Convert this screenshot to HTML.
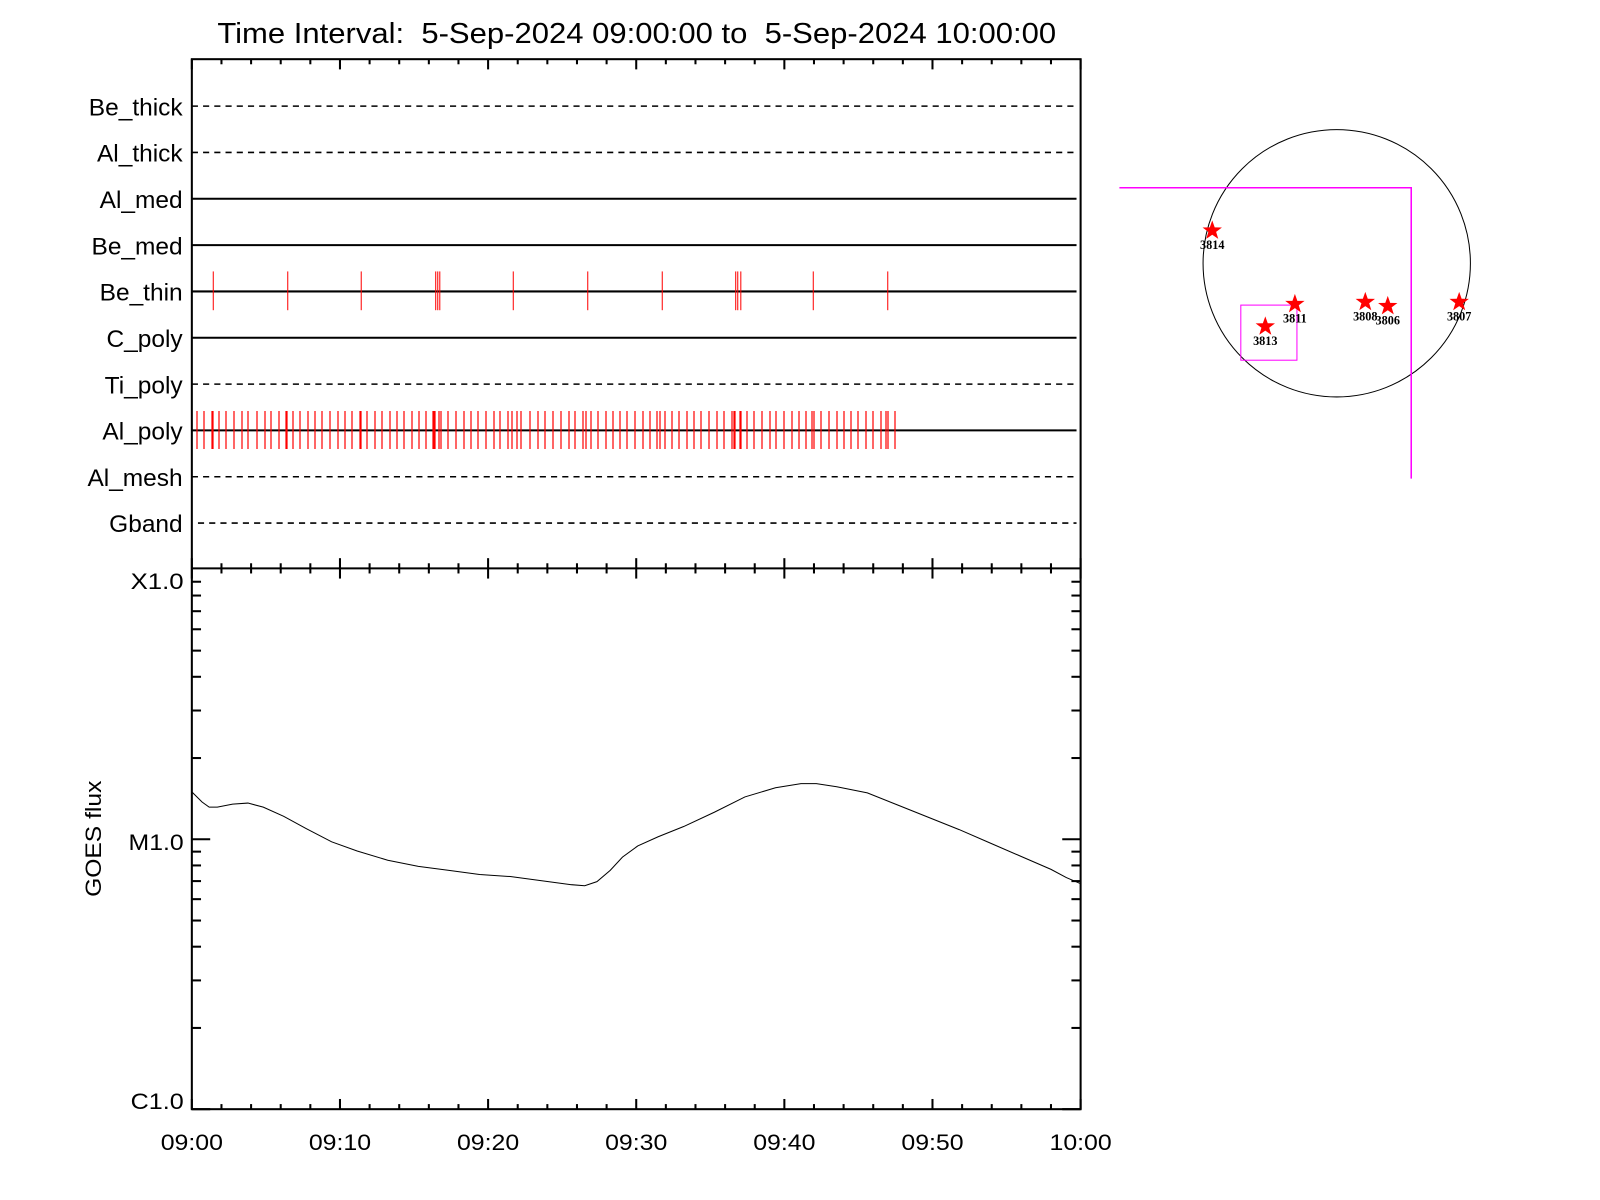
<!DOCTYPE html>
<html><head><meta charset="utf-8"><style>html,body{margin:0;padding:0;background:#fff}svg{display:block}</style></head>
<body>
<svg id="s" width="1600" height="1200" viewBox="0 0 1568 1176" xmlns="http://www.w3.org/2000/svg" font-family="Liberation Sans, sans-serif">
<rect width="1568" height="1176" fill="#fff"/>
<text x="213" y="42" font-size="28" textLength="822" lengthAdjust="spacingAndGlyphs">Time Interval:&#160; 5-Sep-2024 09:00:00 to&#160; 5-Sep-2024 10:00:00</text>
<g id="ax" stroke="#000" stroke-width="2" fill="none"></g>
<g id="rows"></g>
<g id="red" stroke="#f00" stroke-width="1"></g>
<g id="alpoly" transform="scale(0.98)" stroke="#f00" stroke-width="1.2"></g>
<polyline fill="none" stroke="#000" stroke-width="1" points="188,776 198,786 205,791 213,791 228,788 243,787 258,791 278,800 300,812 325,825 350,834 380,843 410,849 440,853 470,857 500,859 530,863 560,867 573,868 585,864 598,853 610,840 625,829 645,820 670,810 700,796 730,781 760,772 785,768 800,768 820,771 850,777 880,789 910,801 940,813 970,826 1000,839 1030,852 1045,860 1059,866"/>
<g id="xl" font-size="22"></g>
<g font-size="22" text-anchor="end">
<text x="180" y="577" textLength="52" lengthAdjust="spacingAndGlyphs">X1.0</text><text x="180" y="833" textLength="54" lengthAdjust="spacingAndGlyphs">M1.0</text><text x="180" y="1087" textLength="52" lengthAdjust="spacingAndGlyphs">C1.0</text>
</g>
<text transform="translate(99,822) rotate(-90)" font-size="22" text-anchor="middle" textLength="114" lengthAdjust="spacingAndGlyphs">GOES flux</text>
<circle cx="1310" cy="258" r="131" fill="none" stroke="#000" stroke-width="1"/>
<g stroke="#f0f" stroke-width="1.5" fill="none">
<polyline points="1097,184 1383,184 1383,469"/>
<rect x="1216" y="299" width="55" height="54" stroke-width="1"/>
</g>
<defs><polygon id="st" fill="#f00" points="0,-10 2.4,-3.2 9.5,-3.1 3.8,1.2 5.9,8.1 0,4 -5.9,8.1 -3.8,1.2 -9.5,-3.1 -2.4,-3.2"/></defs>
<g id="stars" font-family="Liberation Serif, serif" font-size="12" font-weight="bold" text-anchor="middle"></g>
</svg>
<script>
const NS="http://www.w3.org/2000/svg";
function el(p,t,a,txt){const e=document.createElementNS(NS,t);for(const k in a)e.setAttribute(k,a[k]);if(txt)e.textContent=txt;document.getElementById(p).appendChild(e);return e;}
const L=188,R=1059,T=58,M=557,B=1087;
el('ax','rect',{x:L,y:T,width:R-L,height:B-T});
el('ax','line',{x1:L,y1:M,x2:R,y2:M});
for(let i=0;i<=30;i++){const x=L+(R-L)*i/30;const maj=i%5==0;const l=maj?10:5;
 el('ax','line',{x1:x,y1:T,x2:x,y2:T+l});
 el('ax','line',{x1:x,y1:M-l,x2:x,y2:M+l});
 el('ax','line',{x1:x,y1:B,x2:x,y2:B-l});}
["09:00","09:10","09:20","09:30","09:40","09:50","10:00"].forEach((t,i)=>{const x=L+(R-L)*i/6;
 el('xl','text',{x:x-30.5,y:1127,textLength:61,lengthAdjust:'spacingAndGlyphs'},t);});
const dec=264.5;
for(let d=0;d<2;d++)for(let k=1;k<10;k++){const y=B-dec*(d+Math.log10(k));const l=(k==1)?18:9;
 el('ax','line',{x1:L,y1:y,x2:L+l,y2:y});el('ax','line',{x1:R,y1:y,x2:R-l,y2:y});}
const names=["Be_thick","Al_thick","Al_med","Be_med","Be_thin","C_poly","Ti_poly","Al_poly","Al_mesh","Gband"];
const dash=[1,1,0,0,0,0,1,0,1,1];
names.forEach((n,i)=>{const y=104+i*45.4;
 const t=el('rows','text',{x:179,y:y+9,'font-size':24,'text-anchor':'end'},n);
 el('rows','line',{x1:i==9?194:L,y1:y,x2:R-4,y2:y,stroke:'#000','stroke-width':dash[i]?1.5:2,'stroke-dasharray':dash[i]?'6,5':'none'});});
[209,282,354,427,429,431,503,576,649,721,723,726,797,870].forEach(x=>el('red','line',{x1:x,y1:266,x2:x,y2:304}));
const ap=[197,204,212,213,219,226,234,242,248,257,265,271,279,286,287,293,300,308,315,322,330,338,345,352,360,361,367,375,382,390,397,404,412,419,426,433,434,435,439,441,448,456,464,471,478,486,494,500,508,512,517,521,530,538,545,553,561,569,575,583,586,591,598,606,613,620,627,635,643,650,657,660,665,672,679,687,694,701,709,717,724,732,734,735,740,741,747,754,762,770,776,784,792,799,806,812,814,821,829,837,844,851,858,866,873,881,886,888,895];
ap.forEach(x=>el('alpoly','line',{x1:x,y1:411,x2:x,y2:449}));
[[1188,226,"3814"],[1269,298,"3811"],[1240,320,"3813"],[1338,296,"3808"],[1360,300,"3806"],[1430,296,"3807"]].forEach(s=>{
 el('stars','use',{href:'#st',x:s[0],y:s[1]});
 el('stars','text',{x:s[0],y:s[1]+18},s[2]);});
</script>
</body></html>
